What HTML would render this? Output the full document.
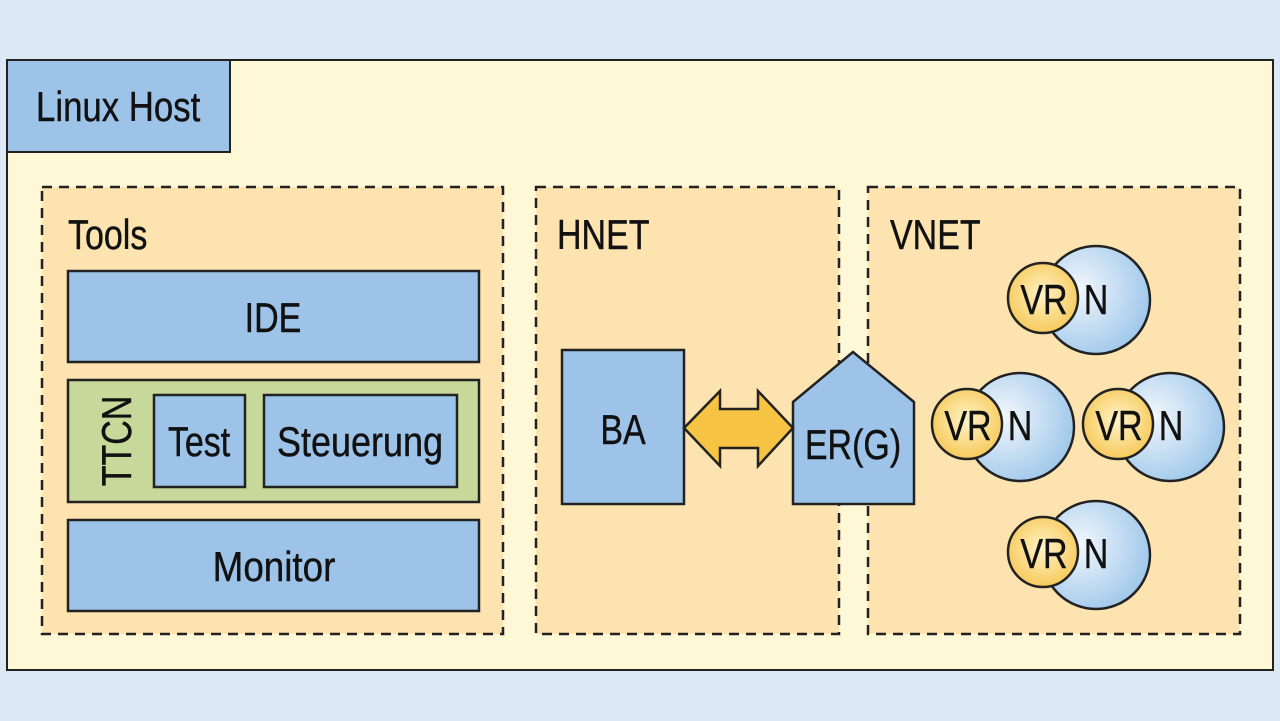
<!DOCTYPE html>
<html><head><meta charset="utf-8"><style>
html,body{margin:0;padding:0;background:#dce9f5;}
svg{display:block}
text{font-family:"Liberation Sans",sans-serif;fill:#111;stroke:#111;stroke-width:0.4;}
</style></head><body>
<svg width="1280" height="721" viewBox="0 0 1280 721">
<defs>
<radialGradient id="nb" cx="0.35" cy="0.4" r="0.7">
<stop offset="0" stop-color="#f2f7fc"/><stop offset="1" stop-color="#9cc6ea"/>
</radialGradient>
<radialGradient id="vr" cx="0.5" cy="0.45" r="0.6">
<stop offset="0" stop-color="#fff3c8"/><stop offset="1" stop-color="#f6c651"/>
</radialGradient>
</defs>
<rect x="0" y="0" width="1280" height="721" fill="#dce9f5"/>
<rect x="7" y="60" width="1266" height="610" fill="#fff8d6" stroke="#222" stroke-width="2"/>
<rect x="7" y="60" width="223" height="92" fill="#9dc4e8" stroke="#222" stroke-width="2"/>
<g transform="translate(36,121) scale(0.87,1.05)"><text font-size="40">Linux Host</text></g>

<g fill="#fde3b0" stroke="#222" stroke-width="2.5" stroke-dasharray="10,7">
<rect x="42" y="187" width="461" height="447"/>
<rect x="536" y="187" width="303" height="447"/>
<rect x="868" y="187" width="372" height="447"/>
</g>
<g transform="translate(68,249) scale(0.85,1.05)"><text font-size="40">Tools</text></g>
<g transform="translate(557,249) scale(0.85,1.05)"><text font-size="40">HNET</text></g>
<g transform="translate(890,249) scale(0.85,1.05)"><text font-size="40">VNET</text></g>

<g stroke="#222" stroke-width="2.5">
<rect x="68" y="271" width="411" height="91" fill="#9dc4e8"/>
<rect x="68" y="380" width="411" height="122" fill="#c6d99b"/>
<rect x="154" y="395" width="91" height="92" fill="#9dc4e8"/>
<rect x="264" y="395" width="193" height="92" fill="#9dc4e8"/>
<rect x="68" y="520" width="411" height="91" fill="#9dc4e8"/>
<rect x="562" y="350" width="122" height="154" fill="#9dc4e8"/>
<polygon points="793,402 853,352 914,402 914,504 793,504" fill="#9dc4e8"/>
<polygon points="684,428 720,391 720,409 758,409 758,391 793,428 758,466 758,448 720,448 720,466" fill="#f7c342"/>
</g>
<g font-size="40" text-anchor="middle">
<g transform="translate(273,332) scale(0.85,1.05)"><text>IDE</text></g>
<g transform="translate(199,456) scale(0.85,1.05)"><text>Test</text></g>
<g transform="translate(360,456) scale(0.9,1.05)"><text>Steuerung</text></g>
<g transform="translate(274,581) scale(0.92,1.05)"><text>Monitor</text></g>
<g transform="translate(623,444) scale(0.85,1.05)"><text>BA</text></g>
<g transform="translate(853,459) scale(0.85,1.05)"><text>ER(G)</text></g>
<g transform="translate(131,441) rotate(-90) scale(0.85,1.05)"><text>TTCN</text></g>
</g>

<g stroke="#222" stroke-width="2.5">
<circle cx="1096" cy="300" r="54" fill="url(#nb)"/>
<circle cx="1043" cy="298" r="35" fill="url(#vr)"/>
<circle cx="1020" cy="427" r="54" fill="url(#nb)"/>
<circle cx="967" cy="424" r="35" fill="url(#vr)"/>
<circle cx="1170" cy="427" r="54" fill="url(#nb)"/>
<circle cx="1118" cy="424" r="35" fill="url(#vr)"/>
<circle cx="1096" cy="555" r="54" fill="url(#nb)"/>
<circle cx="1043" cy="552" r="35" fill="url(#vr)"/>
</g>
<g font-size="40" text-anchor="middle">
<g transform="translate(1044,314) scale(0.85,1.05)"><text>VR</text></g>
<g transform="translate(1096,314) scale(0.85,1.05)"><text>N</text></g>
<g transform="translate(968,440) scale(0.85,1.05)"><text>VR</text></g>
<g transform="translate(1020,440) scale(0.85,1.05)"><text>N</text></g>
<g transform="translate(1119,440) scale(0.85,1.05)"><text>VR</text></g>
<g transform="translate(1171,440) scale(0.85,1.05)"><text>N</text></g>
<g transform="translate(1044,568) scale(0.85,1.05)"><text>VR</text></g>
<g transform="translate(1096,568) scale(0.85,1.05)"><text>N</text></g>
</g>
</svg>
</body></html>
